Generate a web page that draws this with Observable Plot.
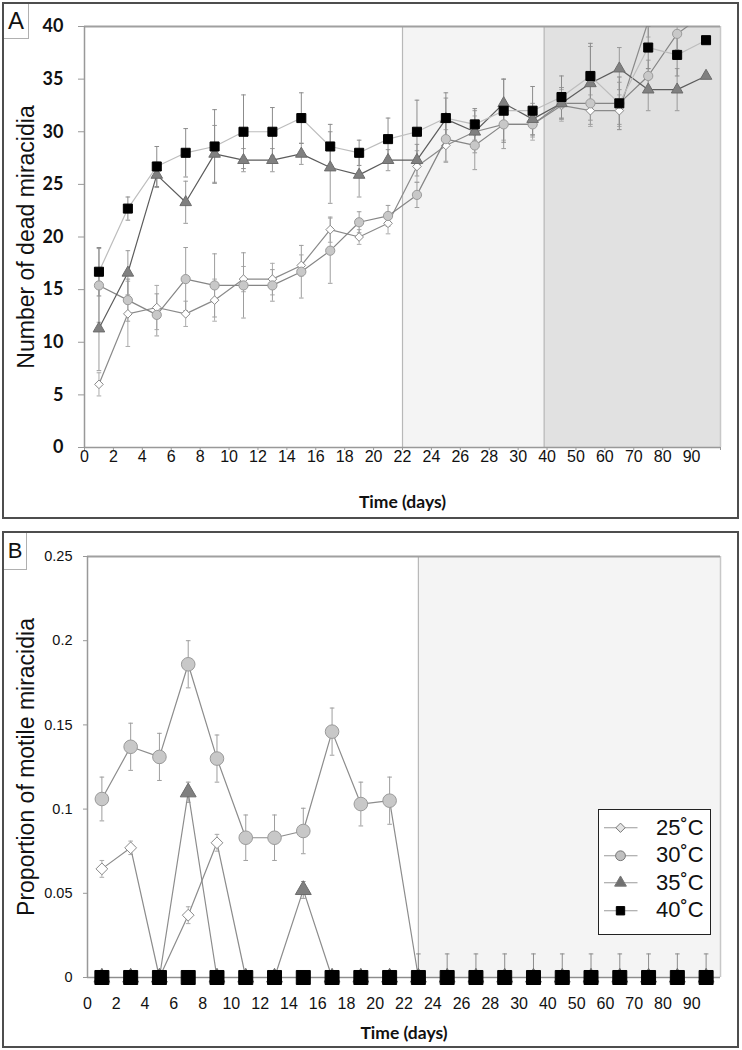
<!DOCTYPE html>
<html>
<head>
<meta charset="utf-8">
<script src="https://cdn.jsdelivr.net/npm/d3@7"></script>
<script src="https://cdn.jsdelivr.net/npm/@observablehq/plot@0.6"></script>
<style>
  html, body { margin: 0; padding: 0; background: #fff; }
  #wrap { position: relative; width: 742px; height: 1050px; overflow: hidden; font-family: "Liberation Sans", Arial, sans-serif; }
  .plotbox { position: absolute; left: 0; }
  .frame { position: absolute; box-sizing: border-box; border: 2px solid #4d4d4d; pointer-events: none; }
  .tag { position: absolute; box-sizing: border-box; border-right: 1px solid #b0b0b0; border-bottom: 1px solid #b0b0b0;
         display: flex; align-items: center; justify-content: center; color: #111; font-family: "Liberation Sans", Arial, sans-serif; }
  svg text { fill: #111; }
  .pa g[aria-label="x-axis tick label"] text, .pb g[aria-label="x-axis tick label"] text { font: 16px "Liberation Sans", Arial, sans-serif; }
  .pa g[aria-label="y-axis tick label"] text { font: 700 18px Lato, sans-serif; }
  .pb g[aria-label="y-axis tick label"] text { font: 14.5px "Liberation Sans", Arial, sans-serif; }
  .pa g[aria-label="x-axis label"] text, .pb g[aria-label="x-axis label"] text { font: 700 17.5px Lato, sans-serif; }
  .pa g[aria-label="y-axis label"] text, .pb g[aria-label="y-axis label"] text { font: 23px "Liberation Sans", Arial, sans-serif; }
  .legend { position: absolute; left: 598px; top: 809px; width: 113px; height: 126px; box-sizing: border-box;
            border: 1.5px solid #222; background: #fff; padding-top: 4px; }
  .lrow { display: flex; align-items: center; height: 27.5px; }
  .lrow span { margin-left: 11px; font: 22px "Liberation Sans", Arial, sans-serif; color: #111; line-height: 1; }
</style>
</head>
<body>
<div id="wrap"></div>
<script>
// ---------- data ----------
const days = [1,3,5,7,9,11,13,15,17,19,21,23,25,27,29,35,45,55,65,75,85,95];
const xTickLabels = ["0","2","4","6","8","10","12","14","16","18","20","22","24","26","28","30","40","50","60","70","80","90"];
const temps = ["25˚C","30˚C","35˚C","40˚C"];

// Panel A: number of dead miracidia (mean, error)
const deadTicks = [0,5,10,15,20,25,30,35,40];
const dead25    = [6.0,12.7,13.3,12.7,14.0,16.0,16.0,17.3,20.7,20.0,21.3,26.7,28.7,30.0,30.7,30.7,32.5,32.0,32.0,40.5,43.0,44.0];
const dead25Err = [1.1,3.1,2.1,1.2,2.0,1.2,1.5,1.0,1.2,0.7,1.0,1.5,1.5,1.5,1.5,1.5,1.5,1.5,1.5,1.5,0,0];
const dead30    = [15.4,14.0,12.6,16.0,15.4,15.4,15.4,16.7,18.7,21.4,22.0,24.0,29.3,28.7,30.7,30.7,32.7,32.7,32.7,35.3,39.3,41.3];
const dead30Err = [3.5,2.0,2.0,3.0,3.0,3.1,1.5,2.5,3.1,1.0,1.0,1.2,2.2,2.3,2.3,1.2,1.5,2.0,2.0,1.5,1.5,0];
const dead35    = [11.3,16.6,25.9,23.3,27.9,27.3,27.3,27.9,26.6,25.9,27.3,27.3,31.2,30.0,32.7,31.2,32.7,34.6,36.0,34.0,34.0,35.3];
const dead35Err = [4.0,2.1,1.2,2.0,2.7,1.1,1.1,1.0,3.4,2.1,1.0,1.5,2.0,2.0,2.3,1.5,1.5,3.5,2.0,2.0,2.0,0];
const dead40    = [16.7,22.7,26.7,28.0,28.6,30.0,30.0,31.3,28.6,28.0,29.3,30.0,31.3,30.7,32.0,32.0,33.3,35.3,32.7,38.0,37.3,38.7];
const dead40Err = [2.3,1.1,1.9,2.3,3.5,3.5,2.3,2.4,2.1,1.2,2.0,3.0,2.4,1.5,3.0,2.3,2.0,3.1,2.5,2.0,2.0,0];

// Panel B: proportion of motile miracidia (mean, error)
const motileTicks = [0,0.05,0.1,0.15,0.2,0.25];
const motile25    = [0.0645,0.077,0,0.037,0.080,0,0,0,0,0,0,0,0,0,0,0,0,0,0,0,0,0];
const motile25Err = [0.005,0.004,0,0.005,0.005,0,0,0,0,0,0,0,0,0,0,0,0,0,0,0,0,0];
const motile30    = [0.106,0.137,0.131,0.186,0.130,0.083,0.083,0.087,0.146,0.103,0.105,0,0,0,0,0,0,0,0,0,0,0];
const motile30Err = [0.013,0.014,0.014,0.014,0.014,0.0135,0.0135,0.0135,0.014,0.013,0.014,0,0,0,0,0,0,0,0,0,0,0];
const motile35    = [0,0,0,0.110,0,0,0,0.052,0,0,0,0,0,0,0,0,0,0,0,0,0,0];
const motile35Err = [0,0,0,0.006,0,0,0,0.005,0,0,0,0,0,0,0,0,0,0,0,0,0,0];
const motile40    = [0,0,0,0,0,0,0,0,0,0,0,0,0,0,0,0,0,0,0,0,0,0];
const motile40Err = [0.004,0.004,0.004,0.004,0.004,0.004,0.004,0.004,0.004,0.004,0.004,0.014,0.014,0.014,0.014,0.014,0.014,0.014,0.014,0.014,0.014,0.014];

// shaded periods (in days)
const shadesA = [{from: 22, to: 39, tone: "light"}, {from: 39, to: 100, tone: "dark"}];
const shadesB = [{from: 23, to: 100, tone: "light"}];

// ---------- helpers ----------
const pos = d => d <= 30 ? d / 2 : 15 + (d - 30) / 10;   // broken time axis
const xTicks = d3.range(xTickLabels.length + 1);
const xDomain = [0, xTickLabels.length];
const LIGHT = "#f4f4f4", DARK = "#e1e1e1";
const cap = {draw(ctx, size) { const w = Math.sqrt(size / Math.PI); ctx.moveTo(-w, 0); ctx.lineTo(w, 0); }};

function rows(mean, err, floorAtZero) {
  return days.map((d, i) => ({
    x: pos(d), y: mean[i], e: err[i],
    lo: floorAtZero ? Math.max(0, mean[i] - err[i]) : mean[i] - err[i],
    hi: mean[i] + err[i]
  }));
}

const symbols = ["diamond2", "circle", "triangle", "square"];
const fills   = ["#ffffff", "#c8c8c8", "#808080", "#000000"];
const strokes = ["#8a8a8a", "#9a9a9a", "#6c6c6c", "#000000"];
const errCols = ["#ababab", "#9e9e9e", "#9a9a9a", "#8c8c8c"];

function errorMarks(data, col, clip) {
  const d = data.filter(r => r.e > 0);
  return [
    Plot.ruleX(d, {x: "x", y1: "lo", y2: "hi", stroke: col, strokeWidth: 1, clip}),
    Plot.dot(d, {x: "x", y: "hi", symbol: cap, r: 2.3, fill: "none", stroke: col, strokeWidth: 1, clip}),
    Plot.dot(d, {x: "x", y: "lo", symbol: cap, r: 2.3, fill: "none", stroke: col, strokeWidth: 1, clip})
  ];
}

function seriesMarks(data, i, lineCol, radius, clip) {
  return [
    Plot.line(data, {x: "x", y: "y", stroke: lineCol, strokeWidth: 1.2, clip}),
    Plot.dot(data, {x: "x", y: "y", symbol: symbols[i], r: radius, fill: fills[i], stroke: strokes[i], strokeWidth: 1, clip})
  ];
}

function shadeMarks(shades, yMax) {
  return [
    Plot.rect(shades.filter(s => s.tone === "light"), {x1: s => pos(s.from), x2: s => pos(s.to), fill: LIGHT}),
    Plot.rect(shades.filter(s => s.tone === "dark"), {x1: s => pos(s.from), x2: s => pos(s.to), fill: DARK}),
    Plot.ruleX(shades, {x: s => pos(s.from), stroke: "#b8b8b8", strokeWidth: 1.2}),
    Plot.ruleX(shades.slice(-1), {x: s => pos(s.to), stroke: "#c8c8c8", strokeWidth: 1.5}),
    Plot.ruleY([yMax], {stroke: "#a0a0a0", strokeWidth: 1.8})
  ];
}

const wrap = document.getElementById("wrap");

// ---------- Panel A ----------
const dataA = [rows(dead25, dead25Err), rows(dead30, dead30Err), rows(dead35, dead35Err), rows(dead40, dead40Err)];
const lineColsA = ["#8a8a8a", "#858585", "#5c5c5c", "#bdbdbd"];
const radiiA = [3.9, 4.6, 4.3, 5.1];
const yMaxA = d3.max(deadTicks);

const plotA = Plot.plot({
  width: 742, height: 520,
  marginLeft: 84, marginRight: 22, marginTop: 26, marginBottom: 73,
  className: "pa",
  style: {background: "transparent", overflow: "visible"},
  x: {domain: xDomain, axis: null},
  y: {domain: [0, yMaxA], axis: null},
  marks: [
    ...shadeMarks(shadesA, yMaxA),
    Plot.ruleX([xDomain[0]], {stroke: "#999", strokeWidth: 1.5}),
    Plot.ruleY([0], {stroke: "#999", strokeWidth: 1.5}),
    Plot.axisY({ticks: deadTicks, tickFormat: d => String(d), tickSize: 6, tickPadding: 15, stroke: "#999",
                label: "Number of dead miracidia", labelAnchor: "center", labelArrow: false, labelOffset: 67}),
    Plot.axisX({ticks: xTicks, tickFormat: i => xTickLabels[i] ?? "", tickSize: 3, tickPadding: 0.5, stroke: "#999",
                label: "Time (days)", labelAnchor: "center", labelArrow: false, labelOffset: 60}),
    ...dataA.flatMap((d, i) => errorMarks(d, errCols[i], true)),
    ...dataA.flatMap((d, i) => seriesMarks(d, i, lineColsA[i], radiiA[i], true))
  ]
});
const boxA = document.createElement("div");
boxA.className = "plotbox"; boxA.style.top = "0px";
boxA.appendChild(plotA);
wrap.appendChild(boxA);

// ---------- Panel B ----------
const dataB = [rows(motile25, motile25Err, true), rows(motile30, motile30Err, true), rows(motile35, motile35Err, true), rows(motile40, motile40Err, true)];
const radiiB = [5.3, 6.8, 5.9, 7.9];
const yMaxB = d3.max(motileTicks);

const plotB = Plot.plot({
  width: 742, height: 530,
  marginLeft: 87, marginRight: 22, marginTop: 36, marginBottom: 73,
  className: "pb",
  style: {background: "transparent", overflow: "visible"},
  x: {domain: xDomain, axis: null},
  y: {domain: [0, yMaxB], axis: null},
  marks: [
    ...shadeMarks(shadesB, yMaxB),
    Plot.ruleX([xDomain[0]], {stroke: "#999", strokeWidth: 1.5}),
    Plot.ruleY([0], {stroke: "#999", strokeWidth: 1.5}),
    Plot.axisY({ticks: motileTicks, tickFormat: d => String(d), tickSize: 4, tickPadding: 11, stroke: "#999",
                label: "Proportion of motile miracidia", labelAnchor: "center", labelArrow: false, labelOffset: 70}),
    Plot.axisX({ticks: xTicks, tickFormat: i => xTickLabels[i] ?? "", tickSize: 0, tickPadding: 20, stroke: "#999",
                label: "Time (days)", labelAnchor: "center", labelArrow: false, labelOffset: 61}),
    ...dataB.flatMap((d, i) => errorMarks(d, errCols[i], false)),
    ...dataB.flatMap((d, i) => seriesMarks(d, i, "#8c8c8c", radiiB[i], false))
  ]
});
const boxB = document.createElement("div");
boxB.className = "plotbox"; boxB.style.top = "520px";
boxB.appendChild(plotB);
wrap.appendChild(boxB);

// ---------- Legend (panel B) ----------
const legend = d3.select(wrap).append("div").attr("class", "legend");
const legendSym = [d3.symbolDiamond2, d3.symbolCircle, d3.symbolTriangle, d3.symbolSquare];
const legendFill = ["#e4e4e4", "#c0c0c0", "#707070", "#000000"];
const legendArea = [55, 75, 60, 70];
temps.forEach((t, i) => {
  const row = legend.append("div").attr("class", "lrow");
  const s = row.append("svg").attr("width", 46).attr("height", 27.5);
  s.append("line").attr("x1", 5).attr("x2", 38.5).attr("y1", 13.75).attr("y2", 13.75).attr("stroke", "#9a9a9a").attr("stroke-width", 1.2);
  s.append("path").attr("transform", "translate(21.5,13.75)")
    .attr("d", d3.symbol(legendSym[i], legendArea[i])())
    .attr("fill", legendFill[i]).attr("stroke", i === 3 ? "#000" : "#777").attr("stroke-width", 1);
  row.append("span").text(t);
});

// ---------- panel frames & tags ----------
function addDiv(cls, css, text) {
  const d = document.createElement("div");
  d.className = cls; Object.assign(d.style, css);
  if (text) d.textContent = text;
  wrap.appendChild(d);
}
addDiv("frame", {left: "2px", top: "2px", width: "737px", height: "517px"});
addDiv("frame", {left: "2px", top: "531px", width: "737px", height: "517px"});
addDiv("tag", {left: "4px", top: "4px", width: "25px", height: "35px", fontSize: "24px"}, "A");
addDiv("tag", {left: "4px", top: "533px", width: "23px", height: "37px", fontSize: "22px"}, "B");
</script>
</body>
</html>
